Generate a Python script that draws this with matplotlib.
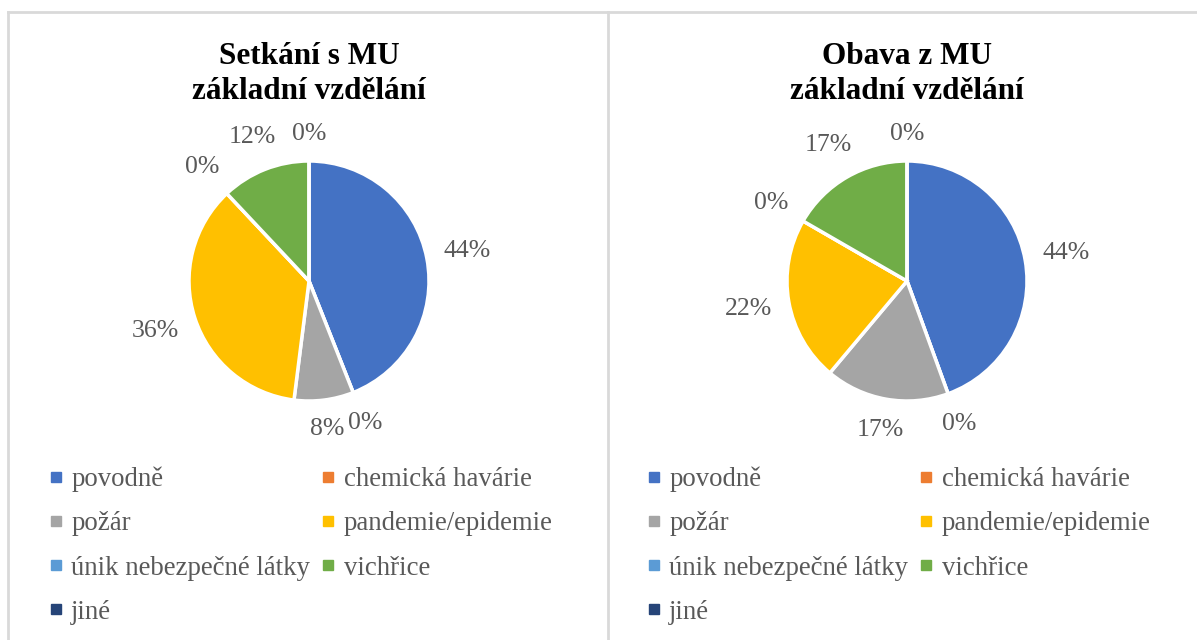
import numpy as np
import matplotlib.pyplot as plt
from matplotlib.lines import Line2D

plt.rcParams['font.family'] = ['Liberation Serif', 'DejaVu Serif']

categories = ['povodně', 'chemická havárie', 'požár', 'pandemie/epidemie',
              'únik nebezpečné látky', 'vichřice', 'jiné']
setkani = [11, 0, 2, 9, 0, 3, 0]   # respondents, základní vzdělání
obava = [8, 0, 3, 4, 0, 3, 0]
titles = ['Setkání s MU\nzákladní vzdělání', 'Obava z MU\nzákladní vzdělání']
colors = ['#4472C4', '#ED7D31', '#A5A5A5', '#FFC000', '#5B9BD5', '#70AD47', '#264478']
gray = '#595959'

W, H = 1197, 640
fig = plt.figure(figsize=(W / 100, H / 100), dpi=100)

# panel borders
for x0, y0, x1, y1 in [(8, 12, 1197, 12), (8, 12, 8, 640), (608, 12, 608, 640)]:
    fig.add_artist(Line2D([x0 / W, x1 / W], [1 - y0 / H, 1 - y1 / H],
                          color='#D9D9D9', lw=2, transform=fig.transFigure))

R = 120  # pie radius in px
box = 400
pies = []
for cx, vals, title in [(309, setkani, titles[0]), (907, obava, titles[1])]:
    ax = fig.add_axes([(cx - box / 2) / W, 1 - (281 + box / 2) / H, box / W, box / H])
    lim = box / 2 / R
    wedges, texts, autotexts = ax.pie(
        vals, colors=colors, startangle=90, counterclock=False,
        autopct=lambda p: f'{p:.0f}%', pctdistance=1.3,
        wedgeprops=dict(edgecolor='white', linewidth=2.5),
        textprops=dict(color=gray, fontsize=18.5))
    ax.set_xlim(-lim, lim)
    ax.set_ylim(-lim, lim)
    ax.set_aspect('equal')
    ax.axis('off')
    pies.append((ax, wedges, autotexts))
    fig.text(cx / W, 1 - 74 / H, title, ha='center', va='center',
             fontsize=22.5, fontweight='bold', linespacing=1.28)

    order = [0, 2, 4, 6, 1, 3, 5]
    handles = [Line2D([], [], marker='s', ls='none', markersize=6.5,
                      markerfacecolor=colors[i], markeredgecolor=colors[i]) for i in order]
    fig.legend(handles, [categories[i] for i in order], ncol=2,
               loc='upper left', bbox_to_anchor=((cx - 274) / W, 1 - 453 / H),
               frameon=False, fontsize=19.3, labelcolor=gray, handlelength=0.55,
               handletextpad=0.3, columnspacing=0.4, labelspacing=0.72,
               borderpad=0)

# "outside end" labels: keep a fixed gap between the pie edge and the text box
fig.canvas.draw()
renderer = fig.canvas.get_renderer()
gap = 16 / R
for ax, wedges, autotexts in pies:
    for w, t in zip(wedges, autotexts):
        ang = np.deg2rad((w.theta1 + w.theta2) / 2)
        bb = t.get_window_extent(renderer)
        hw, hh = bb.width / 2 / R, bb.height / 2 / R
        d = 1 + gap + abs(np.cos(ang)) * hw + abs(np.sin(ang)) * hh
        t.set_position((d * np.cos(ang), d * np.sin(ang)))

fig.savefig('out.png', dpi=100)
